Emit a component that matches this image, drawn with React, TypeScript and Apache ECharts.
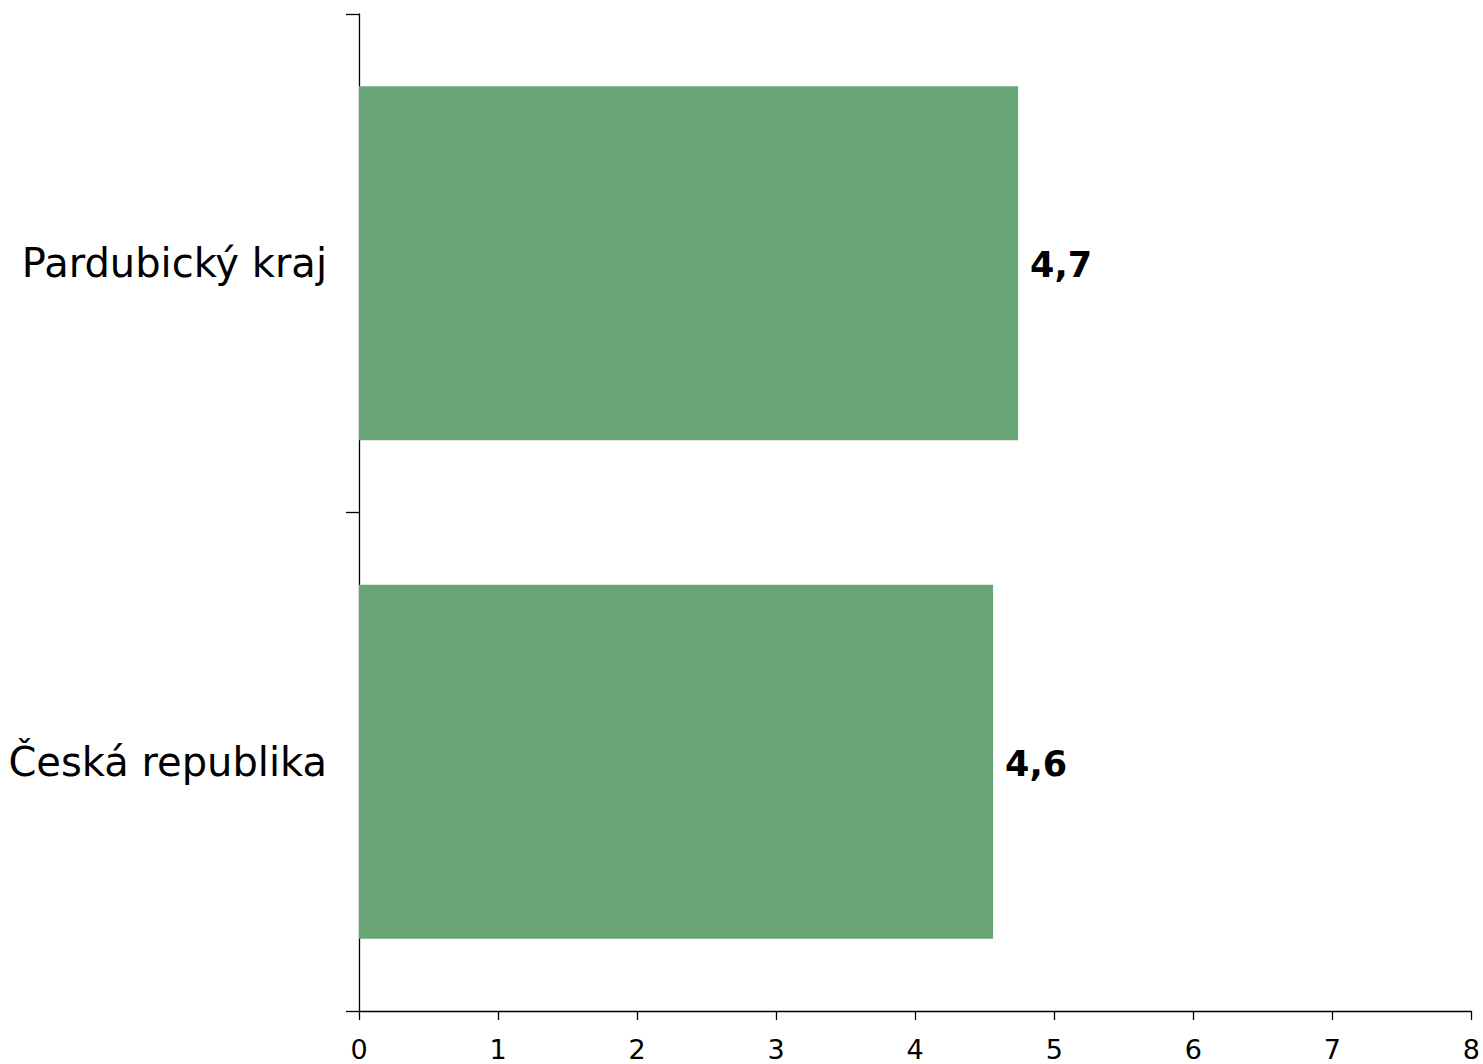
import React, { useEffect, useRef } from "react";
import * as echarts from "echarts";

const categories = ["Česká republika", "Pardubický kraj"];
const values = [4.56, 4.74];
const labels = ["4,6", "4,7"];
const xTicks = [0, 1, 2, 3, 4, 5, 6, 7, 8];

export default function App() {
  const ref = useRef<HTMLDivElement>(null);
  useEffect(() => {
    const chart = echarts.init(ref.current!, null, { renderer: "svg" });
    chart.setOption({
      animation: false,
      grid: { left: 359, right: 11, top: 14, bottom: 53 },
      xAxis: {
        type: "value",
        min: xTicks[0],
        max: xTicks[xTicks.length - 1],
        interval: 1,
        splitLine: { show: false },
        axisLine: { show: true, lineStyle: { color: "#000", width: 1.3 } },
        axisTick: { show: true, length: 9, lineStyle: { color: "#000", width: 1.3 } },
        axisLabel: {
          color: "#000",
          fontFamily: "DejaVu Sans",
          fontSize: 27,
          margin: 25,
          showMaxLabel: true,
        },
      },
      yAxis: {
        type: "category",
        data: categories,
        axisLine: { show: true, lineStyle: { color: "#000", width: 1.3 } },
        axisTick: { show: true, length: 13, lineStyle: { color: "#000", width: 1.3 } },
        axisLabel: {
          color: "#000",
          fontFamily: "DejaVu Sans",
          fontSize: 40,
          margin: 32,
        },
      },
      series: [
        {
          type: "bar",
          data: values,
          barWidth: "71%",
          itemStyle: { color: "#68a678" },
          label: {
            show: true,
            position: "right",
            distance: 12,
            color: "#000",
            fontFamily: "DejaVu Sans",
            fontWeight: "bold",
            fontSize: 35,
            offset: [0, 2],
            formatter: (p: any) => labels[p.dataIndex],
          },
        },
      ],
    });
    return () => chart.dispose();
  }, []);
  return (
    <div
      ref={ref}
      style={{ position: "fixed", left: 0, top: 0, width: 1483, height: 1064, background: "#fff" }}
    />
  );
}
